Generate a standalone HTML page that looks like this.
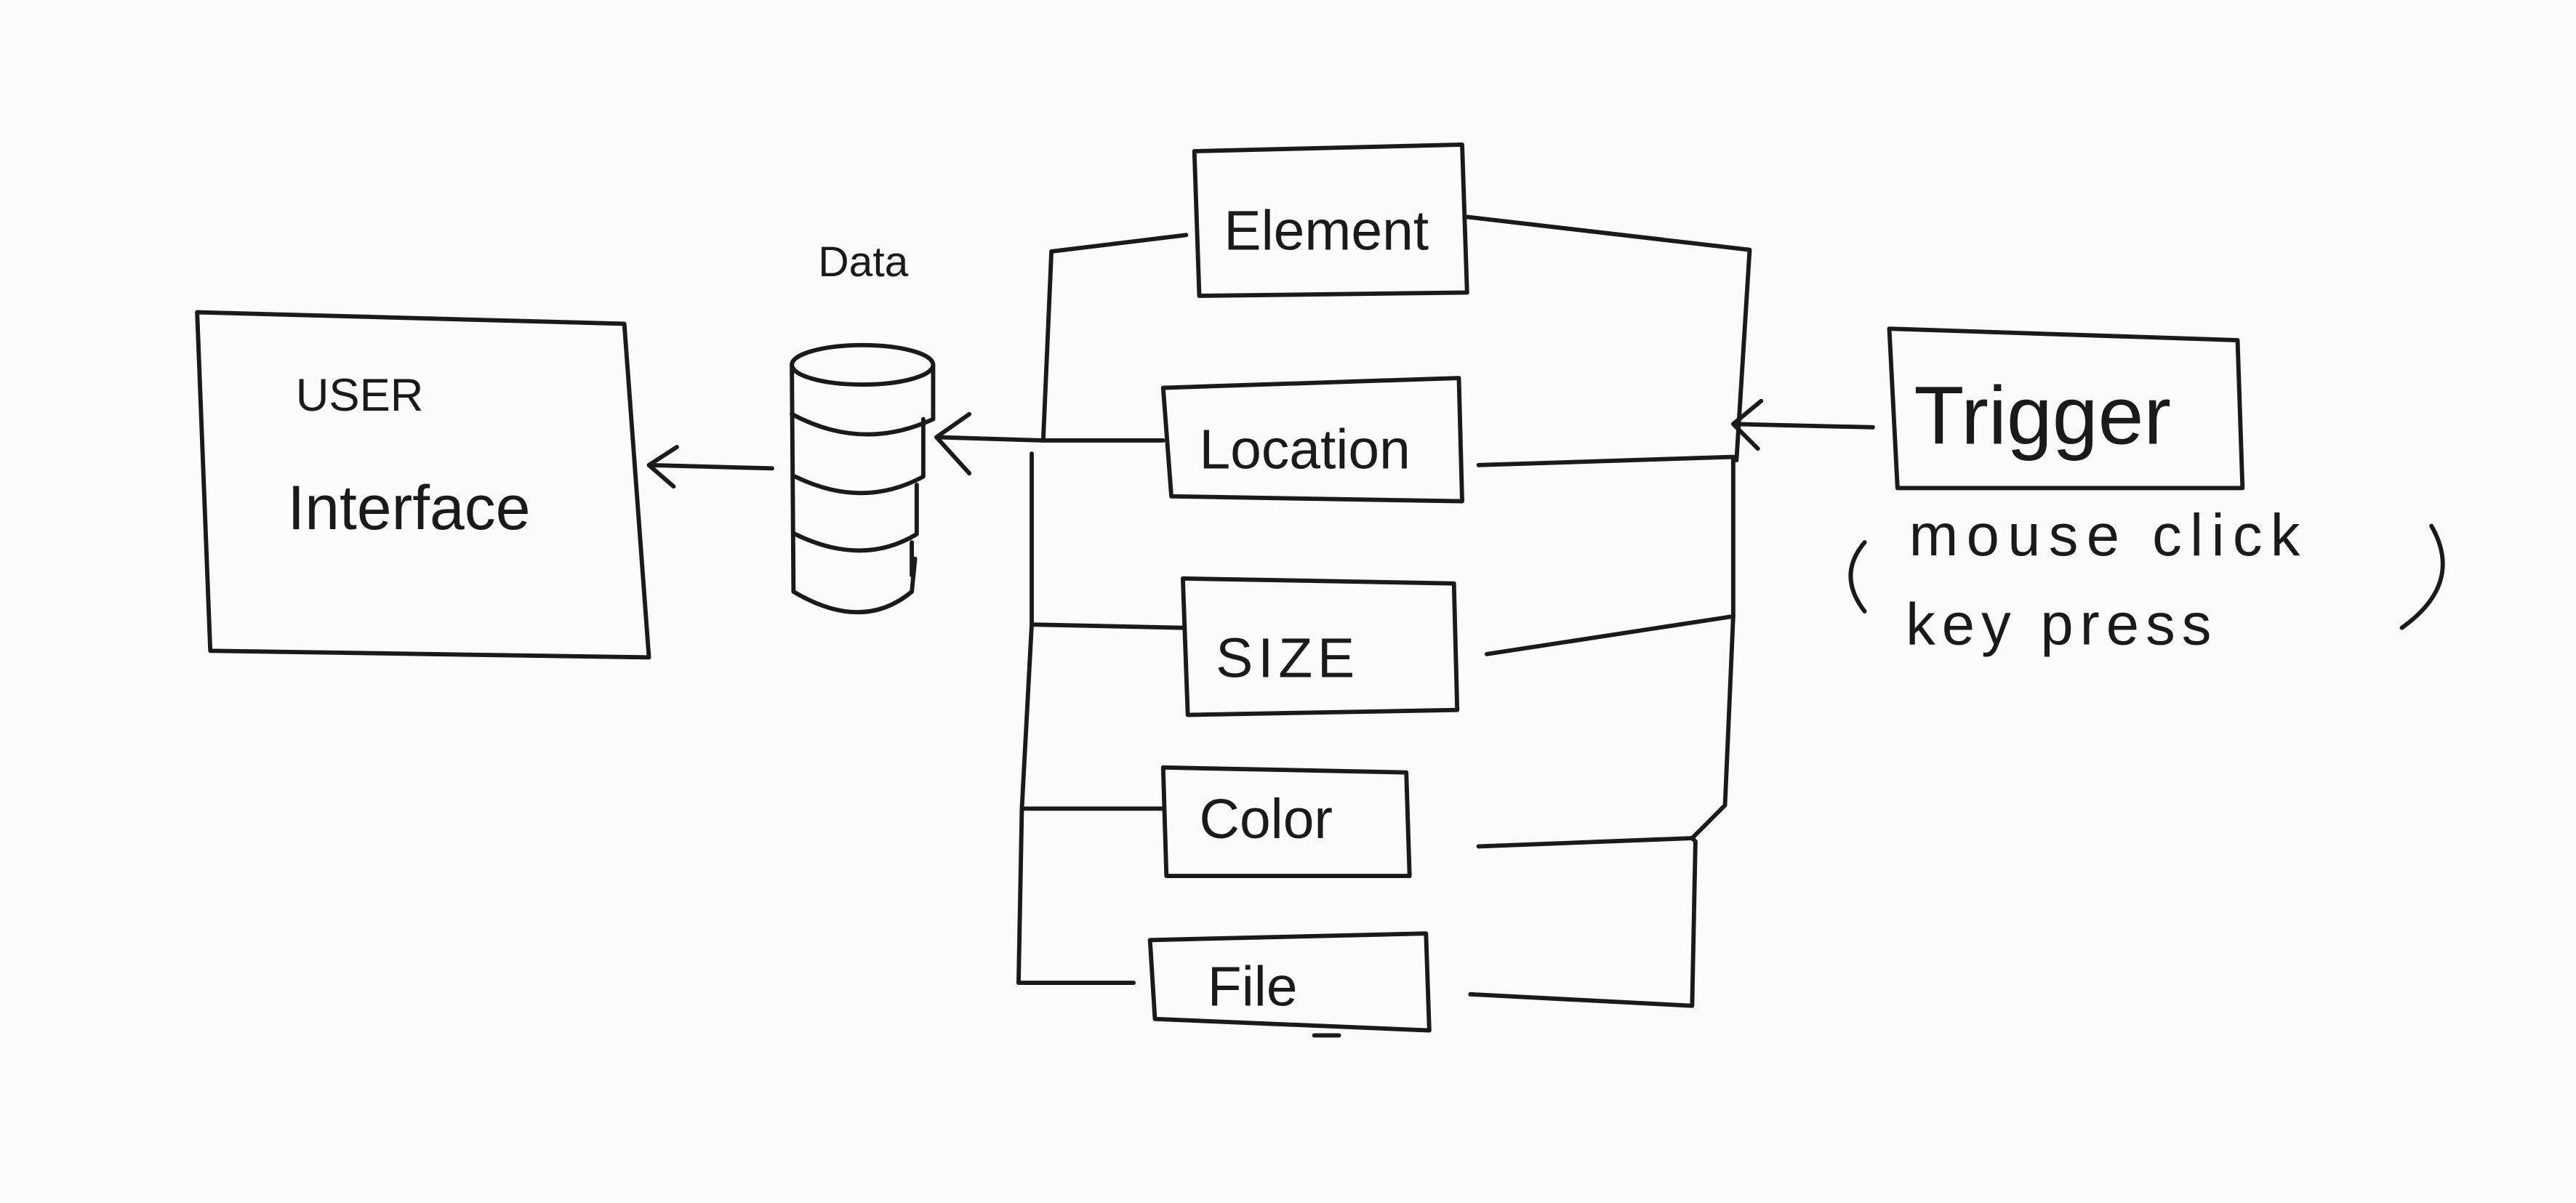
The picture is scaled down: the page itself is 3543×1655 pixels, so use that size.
<!DOCTYPE html>
<html><head><meta charset="utf-8"><style>
html,body{margin:0;padding:0;background:#fbfbfb;}
svg{display:block;}
text{font-family:"Liberation Sans",sans-serif;fill:#1a1a1a;}
</style></head><body>
<svg width="3543" height="1655" viewBox="0 0 1568 732" preserveAspectRatio="none" xmlns="http://www.w3.org/2000/svg">
<rect width="1568" height="732" fill="#fbfbfb"/>
<g fill="none" stroke="#1a1a1a" stroke-width="2.6" stroke-linecap="round" stroke-linejoin="round">
<path d="M120 190 L380 197 L395 400 L128 396 Z"/>
<path d="M470 285 L395 283 M412 272 L395 283 L410 296"/>
<ellipse cx="525" cy="222" rx="43" ry="12"/>
<path d="M482 222 L483 360 Q525 385 555 360 L557 340"/>
<path d="M568 222 L568 255"/>
<path d="M482 252 Q525 275 568 255"/>
<path d="M484 290 Q525 310 562 290 L562 255"/>
<path d="M484 325 Q525 345 558 325 L558 295"/>
<path d="M555 330 L555 350"/>
<path d="M635 268 L570 266 M590 252 L570 266 L590 288"/>
<path d="M722 143 L640 153 L635 268 L708 268"/>
<path d="M628 276 L628 380 L720 382"/>
<path d="M628 380 L622 492 L708 492"/>
<path d="M622 492 L620 598 L690 598"/>
<path d="M727 92 L890 88 L893 178 L730 180 Z"/>
<path d="M708 236 L888 230 L890 305 L713 302 Z"/>
<path d="M720 352 L885 355 L887 432 L723 435 Z"/>
<path d="M708 467 L856 470 L858 533 L710 533 Z"/>
<path d="M700 572 L868 568 L870 627 L703 620 Z"/>
<path d="M893 132 L1065 152 L1057 280"/>
<path d="M900 283 L1055 278 L1055 375"/>
<path d="M905 398 L1055 375 L1050 490 L1030 510"/>
<path d="M900 515 L1030 510 L1032 512 L1030 612 L895 605"/>
<path d="M1140 260 L1055 258 M1072 244 L1055 258 L1070 273"/>
<path d="M1150 200 L1362 207 L1365 297 L1155 297 Z"/>
<path d="M1135 330 Q1118 350 1135 372"/>
<path d="M1480 320 Q1500 355 1462 382"/>
<path d="M800 630 L815 630"/>
</g>
<text x="180" y="250" font-size="28">USER</text>
<text x="175" y="322" font-size="38">Interface</text>
<text x="498" y="168" font-size="26">Data</text>
<text x="745" y="152" font-size="34">Element</text>
<text x="730" y="285" font-size="34">Location</text>
<text x="740" y="412" font-size="34" letter-spacing="3">SIZE</text>
<text x="730" y="510" font-size="34">Color</text>
<text x="735" y="612" font-size="34">File</text>
<text x="1165" y="270" font-size="50">Trigger</text>
<text x="1162" y="338" font-size="36" letter-spacing="5">mouse click</text>
<text x="1160" y="392" font-size="36" letter-spacing="4">key press</text>
</svg>
</body></html>
